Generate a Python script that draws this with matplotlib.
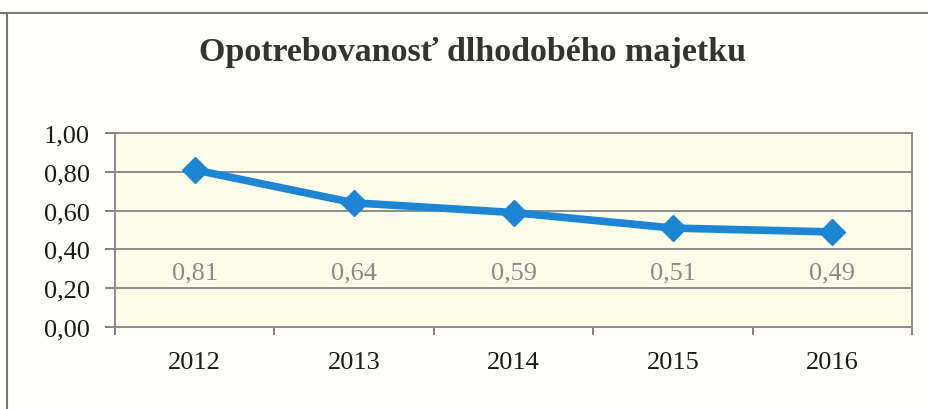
import matplotlib.pyplot as plt
import numpy as np
from matplotlib.lines import Line2D

plt.rcParams['font.family'] = ['Liberation Serif', 'DejaVu Serif']

years = ['2012', '2013', '2014', '2015', '2016']
values = [0.81, 0.64, 0.59, 0.51, 0.49]
value_labels = ['0,81', '0,64', '0,59', '0,51', '0,49']
y_ticks = [0.0, 0.2, 0.4, 0.6, 0.8, 1.0]
y_tick_labels = ['0,00', '0,20', '0,40', '0,60', '0,80', '1,00']

W, H = 929, 410
fig = plt.figure(figsize=(W / 100, H / 100), dpi=100)
fig.patch.set_facecolor('#fefefb')

# plot area in pixels: left 115, right 912, top 134, bottom 328
ax = fig.add_axes([115 / W, 1 - 328 / H, (912 - 115) / W, (328 - 134) / H])
ax.set_facecolor('#fdfde9')

x = np.arange(len(years))
ax.plot(x, values, color='#1c86d4', linewidth=5.5, marker='D', markersize=13,
        solid_joinstyle='round', zorder=3)

for xi, lab in zip(x, value_labels):
    ax.text(xi, 0.28, lab, ha='center', va='center', fontsize=19, color='#8a8a8a')

ax.set_xlim(-0.5, len(years) - 0.5)
ax.set_ylim(0, 1.0)
ax.set_yticks(y_ticks)
ax.set_yticklabels(y_tick_labels, fontsize=19, color='#1a1a1a')
ax.set_xticks(x)
ax.set_xticklabels(years, fontsize=19, color='#1a1a1a')
ax.tick_params(axis='x', length=0, pad=17)
ax.tick_params(axis='y', length=7, width=1.3, color='#777777', pad=11)
ax.set_xticks(np.arange(len(years) + 1) - 0.5, minor=True)
ax.tick_params(axis='x', which='minor', length=6, width=1.3, color='#777777')

ax.grid(axis='y', color='#8c8c8c', linewidth=1.4)
ax.set_axisbelow(True)
for side in ['left', 'right', 'top', 'bottom']:
    ax.spines[side].set_color('#8c8c8c')
    ax.spines[side].set_linewidth(1.4)

fig.text(473 / W, 1 - 53 / H, 'Opotrebovanosť dlhodobého majetku', ha='center', va='center',
         fontsize=24.5, fontweight='bold', color='#333333')

# outer chart border (top and left edges visible in the scan)
fig.add_artist(Line2D([0, 1], [1 - 14 / H, 1 - 14 / H], transform=fig.transFigure,
                      color='#777777', linewidth=1.5))
fig.add_artist(Line2D([7 / W, 7 / W], [0, 1 - 14 / H], transform=fig.transFigure,
                      color='#777777', linewidth=1.5))

fig.savefig('out.png', dpi=100, facecolor=fig.get_facecolor())
